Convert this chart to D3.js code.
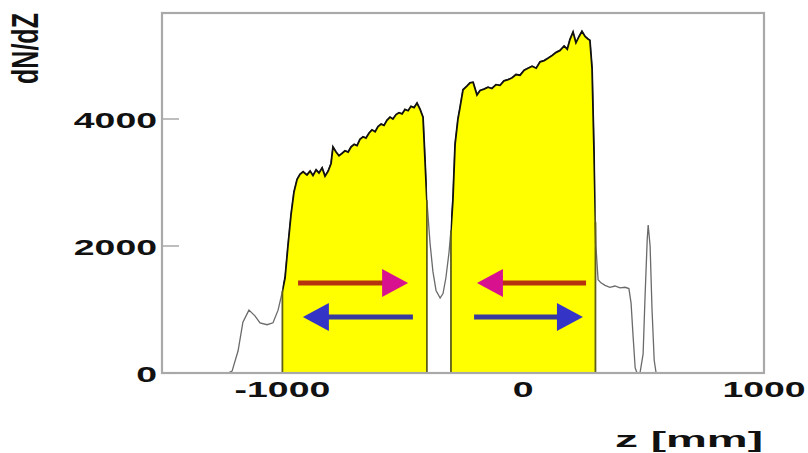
<!DOCTYPE html>
<html>
<head>
<meta charset="utf-8">
<script src="https://cdn.jsdelivr.net/npm/d3@7"></script>
<style>
  body { margin: 0; background: #fff; }
  svg { display: block; }
  text { font-family: "Liberation Sans", Arial, sans-serif; font-weight: bold; fill: #111; }
</style>
</head>
<body>
<div id="chart"></div>
<script>
const width = 808, height = 453;

// histogram: z [mm] and dN/dZ
const zVals = [-1500, -1226, -1209, -1184, -1164, -1139, -1114, -1093, -1064, -1039, -1018, -1002,
  -989, -977, -964, -952, -939, -927, -914, -898, -885, -873, -860, -848, -835, -823, -810, -798,
  -790, -777, -765, -752, -740, -727, -715, -702, -690, -678, -665, -653, -640, -628, -615, -603,
  -590, -578, -566, -553, -541, -528, -516, -503, -491, -478, -466, -453, -441, -428, -416, -400,
  -387, -375, -362, -345, -333, -321, -308, -300, -292, -283, -271, -262, -250, -233, -221, -208,
  -192, -179, -163, -146, -130, -113, -96, -80, -63, -46, -30, -13, 4, 20, 37, 54, 70, 87, 104,
  120, 137, 153, 170, 183, 194, 207, 219, 232, 244, 257, 269, 277, 286, 294, 302, 311, 323, 340,
  360, 381, 402, 423, 439, 448, 456, 465, 473, 485, 498, 506, 515, 519, 527, 535, 544, 552, 1000];
const counts = [0, 0, 30, 350, 800, 990, 900, 790, 760, 790, 990, 1250,
  1500, 2000, 2500, 2850, 3050, 3130, 3170, 3120, 3180, 3110, 3200, 3150, 3230, 3100, 3180, 3300,
  3560, 3480, 3420, 3460, 3500, 3480, 3560, 3600, 3580, 3680, 3720, 3700, 3780, 3830, 3800, 3880,
  3920, 3900, 3980, 4030, 4000, 4070, 4100, 4080, 4150, 4130, 4200, 4180, 4250, 4150, 4030, 2720,
  2050, 1600, 1300, 1180, 1250, 1500, 1900, 2250, 2720, 3600, 4000, 4190, 4460, 4520, 4570, 4580,
  4380, 4450, 4470, 4500, 4480, 4540, 4530, 4600, 4620, 4650, 4700, 4690, 4770, 4800, 4830, 4800, 4900, 4920, 4960,
  5000, 5050, 5080, 5150, 5100, 5250, 5370, 5200, 5300, 5380, 5300, 5260, 5240, 4800, 3500, 2000, 1470, 1420, 1380,
  1350, 1370, 1340, 1350, 1330, 1100, 600, 80, 0, 0, 300, 1200, 2100, 2330, 2000, 1000, 200, 0, 0];

// yellow selected regions [z from, z to]
const bands = [[-1000, -400], [-300, 300]];

// arrows: value level, tail z, tip z, kind
const arrowLevel = [1417, 882, 1417, 882];
const arrowTail = [-935, -458, 261, -204];
const arrowTip = [-478, -915, -192, 248];
const arrowKind = ["red", "blue", "red", "blue"];

const yTicks = [0, 2000, 4000];
const xTicks = [-1000, 0, 1000];

const data = zVals.map((z, i) => ({z: z, n: counts[i]}));

const svg = d3.select("#chart").append("svg")
  .attr("width", width).attr("height", height);

const x = d3.scaleLinear().domain([-1500, 1000]).range([162, 764]);
const y = d3.scaleLinear().domain([0, 4000]).range([373, 119]);

// interpolate the curve at a given z
function valueAt(z) {
  const i = d3.bisector(d => d.z).left(data, z);
  if (i <= 0) return data[0].n;
  const a = data[i - 1], b = data[i];
  return a.n + (b.n - a.n) * (z - a.z) / (b.z - a.z);
}

const defs = svg.append("defs");
bands.forEach((b, i) => {
  defs.append("clipPath").attr("id", "band" + i)
    .append("rect")
    .attr("x", x(b[0])).attr("y", 0)
    .attr("width", x(b[1]) - x(b[0])).attr("height", y(0));
});

const area = d3.area().x(d => x(d.z)).y0(y(0)).y1(d => y(d.n));
const line = d3.line().x(d => x(d.z)).y(d => y(d.n));

// thin grey curve everywhere
svg.append("path").datum(data)
  .attr("d", line)
  .attr("fill", "none")
  .attr("stroke", "#6a6a6a")
  .attr("stroke-width", 1.3);

bands.forEach((b, i) => {
  svg.append("path").datum(data)
    .attr("clip-path", "url(#band" + i + ")")
    .attr("d", area)
    .attr("fill", "#ffff00");
  svg.append("path").datum(data)
    .attr("clip-path", "url(#band" + i + ")")
    .attr("d", line)
    .attr("fill", "none")
    .attr("stroke", "#111")
    .attr("stroke-width", 1.8);
  // band edges
  b.forEach(z => {
    svg.append("line")
      .attr("x1", x(z)).attr("x2", x(z))
      .attr("y1", y(0)).attr("y2", y(valueAt(z)))
      .attr("stroke", "#5e5e18")
      .attr("stroke-width", 1.8);
  });
});

// arrows
const shaftColor = {red: "#b5340f", blue: "#3a3a9c"};
const headColor = {red: "#d8128f", blue: "#3434c6"};
arrowLevel.forEach((v, i) => {
  const x0 = x(arrowTail[i]), x1 = x(arrowTip[i]), yy = y(v);
  const dir = x1 > x0 ? 1 : -1;
  const headLen = 26, headHalf = 14;
  const g = svg.append("g");
  g.append("line")
    .attr("x1", x0).attr("x2", x1 - dir * headLen + dir * 2)
    .attr("y1", yy).attr("y2", yy)
    .attr("stroke", shaftColor[arrowKind[i]])
    .attr("stroke-width", 5);
  g.append("path")
    .attr("d", `M${x1},${yy} L${x1 - dir * headLen},${yy - headHalf} L${x1 - dir * headLen},${yy + headHalf} Z`)
    .attr("fill", headColor[arrowKind[i]]);
});

// frame
svg.append("rect")
  .attr("x", x(-1500)).attr("y", 13)
  .attr("width", x(1000) - x(-1500)).attr("height", y(0) - 13)
  .attr("fill", "none")
  .attr("stroke", "#a9a9a9")
  .attr("stroke-width", 2.2);

// y ticks
yTicks.forEach(t => {
  svg.append("line")
    .attr("x1", x(-1500)).attr("x2", x(-1500) + 17)
    .attr("y1", y(t)).attr("y2", y(t))
    .attr("stroke", "#a9a9a9").attr("stroke-width", 1.5);
  svg.append("text")
    .attr("transform", `translate(157,${y(t) + 8.5}) scale(1.7,1)`)
    .attr("text-anchor", "end")
    .style("font-size", "22px")
    .text(t);
});

xTicks.forEach(t => {
  svg.append("text")
    .attr("transform", `translate(${x(t)},397) scale(1.7,1)`)
    .attr("text-anchor", "middle")
    .style("font-size", "22px")
    .text(t);
});

svg.append("text")
  .attr("x", 615).attr("y", 447)
  .attr("textLength", 148).attr("lengthAdjust", "spacingAndGlyphs")
  .style("font-size", "22px")
  .text("z [mm]");

svg.append("text")
  .attr("transform", "translate(38,48.5) scale(1.45,1) rotate(-90)")
  .attr("text-anchor", "middle")
  .style("font-size", "25px")
  .text("dN/dZ");
</script>
</body>
</html>
